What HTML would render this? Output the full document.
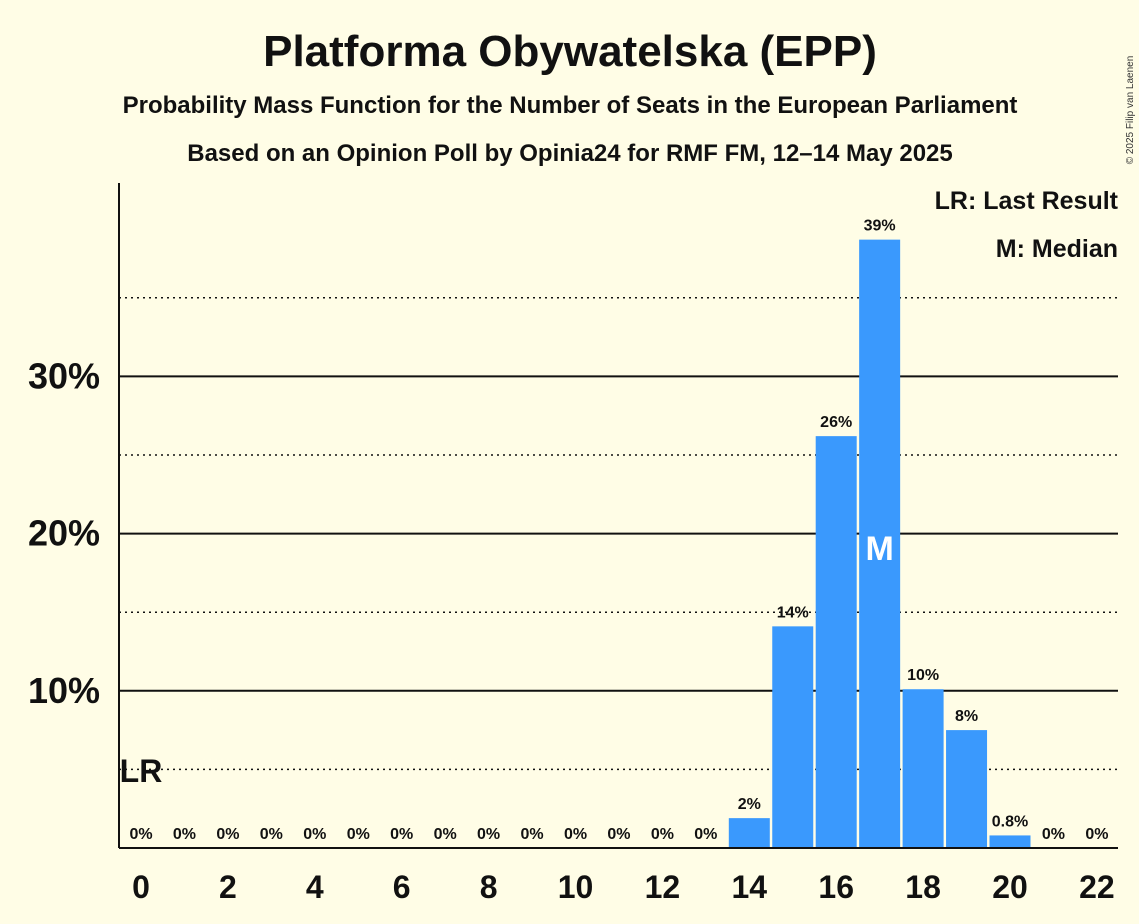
<!DOCTYPE html>
<html><head><meta charset="utf-8"><style>
body{margin:0;background:#fffde6;}
svg{display:block;font-family:"Liberation Sans",sans-serif;}
</style></head><body>
<svg width="1139" height="924" viewBox="0 0 1139 924">
<rect width="1139" height="924" fill="#fffde6"/>
<text x="570" y="66" text-anchor="middle" font-size="44" font-weight="bold" fill="#111">Platforma Obywatelska (EPP)</text>
<text x="570" y="113" text-anchor="middle" font-size="24" font-weight="bold" fill="#111">Probability Mass Function for the Number of Seats in the European Parliament</text>
<text x="570" y="161" text-anchor="middle" font-size="24" font-weight="bold" fill="#111">Based on an Opinion Poll by Opinia24 for RMF FM, 12–14 May 2025</text>
<text x="1133" y="110" font-size="10" fill="#333" transform="rotate(-90 1133 110)" text-anchor="middle">© 2025 Filip van Laenen</text>
<text x="1118" y="209" text-anchor="end" font-size="25" font-weight="bold" fill="#111">LR: Last Result</text>
<text x="1118" y="257" text-anchor="end" font-size="25" font-weight="bold" fill="#111">M: Median</text>
<g id="grid"></g><g id="bars"></g><g id="labels"></g>
<line x1="119" y1="183" x2="119" y2="848" stroke="#111" stroke-width="2"/>
<line x1="119" y1="848" x2="1118" y2="848" stroke="#111" stroke-width="2"/>
</svg>
<script>
const seats=[0,1,2,3,4,5,6,7,8,9,10,11,12,13,14,15,16,17,18,19,20,21,22];
const probs=[0,0,0,0,0,0,0,0,0,0,0,0,0,0,1.9,14.1,26.2,38.7,10.1,7.5,0.8,0,0];
const valueLabels=["0%","0%","0%","0%","0%","0%","0%","0%","0%","0%","0%","0%","0%","0%","2%","14%","26%","39%","10%","8%","0.8%","0%","0%"];
const yTicks=[10,20,30];
const yDotted=[5,15,25,35];
const xTicks=[0,2,4,6,8,10,12,14,16,18,20,22];
const lastResult=0, median=17;
const NS="http://www.w3.org/2000/svg";
const x=s=>141+s*43.45, y=v=>848-v*15.72;
function mk(t,a,p){const e=document.createElementNS(NS,t);for(const k in a)e.setAttribute(k,a[k]);p.appendChild(e);return e;}
const g=document.getElementById('grid'),b=document.getElementById('bars'),l=document.getElementById('labels');
yDotted.forEach(v=>{const e=mk('line',{x1:119,x2:1118,y1:y(v),y2:y(v),stroke:'#111','stroke-width':1.5,'stroke-dasharray':'2,4'},g);

});
yTicks.forEach(v=>{const e=mk('line',{x1:119,x2:1118,y1:y(v),y2:y(v),stroke:'#111','stroke-width':2},g);


const t=mk('text',{x:100,y:y(v)+12,'text-anchor':'end','font-size':36,'font-weight':'bold',fill:'#111'},l);t.textContent=v+'%';

});
xTicks.forEach(s=>{const t=mk('text',{x:x(s),y:898,'text-anchor':'middle','font-size':32,'font-weight':'bold',fill:'#111'},l);t.textContent=s;

});
seats.forEach((s,i)=>{const v=probs[i];
if(v>0){const r=mk('rect',{x:x(s)-20.5,y:y(v),width:41,height:848-y(v),fill:'#3a99fd'},b);

}
const t=mk('text',{x:x(s),y:(v>0?y(v):848)-9,'text-anchor':'middle','font-size':16,'font-weight':'bold',fill:'#111'},l);t.textContent=valueLabels[i];


});
const m=mk('text',{x:x(median),y:560,'text-anchor':'middle','font-size':34,'font-weight':'bold',fill:'#fff'},l);m.textContent='M';


const lr=mk('text',{x:x(lastResult),y:782,'text-anchor':'middle','font-size':32,'font-weight':'bold',fill:'#111'},l);lr.textContent='LR';


</script>
</body></html>
